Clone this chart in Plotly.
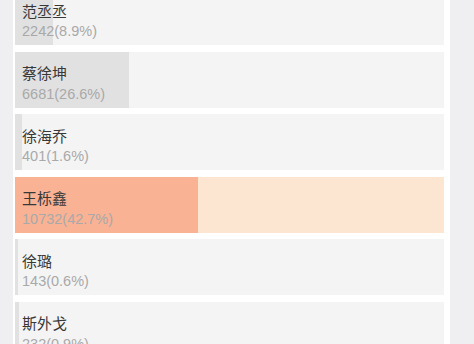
import plotly.graph_objects as go

names = ["范丞丞", "蔡徐坤", "徐海乔", "王栎鑫", "徐璐", "斯外戈"]
votes = [2242, 6681, 401, 10732, 143, 232]
percents = [8.9, 26.6, 1.6, 42.7, 0.6, 0.9]
highlight = [False, False, False, True, False, False]

PAGE_BG = "#efeff1"
CARD_BG = "#f4f4f4"
BAR_GRAY = "#e1e1e1"
BAR_ORANGE = "#f9b294"
TRACK_PEACH = "#fde6d1"
NAME_COLOR = "#383838"
VALUE_COLOR = "#a9a9a9"

track_colors = [TRACK_PEACH if h else CARD_BG for h in highlight]
bar_colors = [BAR_ORANGE if h else BAR_GRAY for h in highlight]

fig = go.Figure()
fig.add_trace(go.Bar(
    y=names, x=[100] * len(names), base=0, orientation="h",
    marker=dict(color=track_colors, line=dict(width=0)),
    width=0.896, hoverinfo="skip", showlegend=False,
))
fig.add_trace(go.Bar(
    y=names, x=percents, base=0, orientation="h",
    marker=dict(color=bar_colors, line=dict(width=0)),
    width=0.896, hoverinfo="skip", showlegend=False,
))

annotations = []
for n, v, p in zip(names, votes, percents):
    annotations.append(dict(
        x=0, y=n, xref="x", yref="y", text=n, showarrow=False,
        xanchor="left", yanchor="middle", xshift=5, yshift=7,
        font=dict(family="Noto Sans CJK SC", size=15, color=NAME_COLOR),
    ))
    annotations.append(dict(
        x=0, y=n, xref="x", yref="y", text=f"{v}({p}%)", showarrow=False,
        xanchor="left", yanchor="middle", xshift=5, yshift=-14,
        font=dict(family="Liberation Sans, Noto Sans CJK SC", size=14.5, color=VALUE_COLOR),
    ))

fig.update_layout(
    width=474, height=344,
    margin=dict(l=0, r=0, t=0, b=0, pad=0),
    paper_bgcolor=PAGE_BG,
    plot_bgcolor="#ffffff",
    barmode="overlay",
    bargap=0,
    annotations=annotations,
    hovermode=False,
    xaxis=dict(domain=[13 / 474, 450 / 474], range=[-2 / 4.29, 100 + 6 / 4.29],
               visible=False, fixedrange=True),
    yaxis=dict(type="category", categoryorder="array", categoryarray=names,
               range=[5.232, -0.272], visible=False, fixedrange=True),
)

fig.write_html("out.html", config={"displayModeBar": False, "staticPlot": True})
